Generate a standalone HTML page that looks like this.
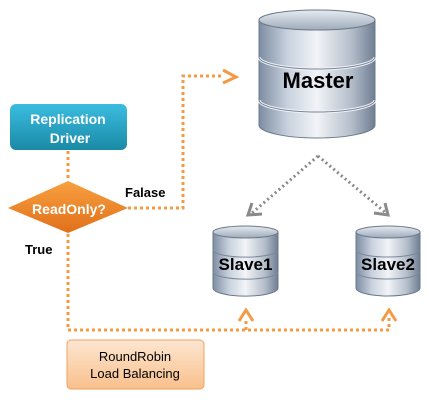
<!DOCTYPE html>
<html><head><style>
body{margin:0;width:429px;height:404px;background:#fff;overflow:hidden;font-family:"Liberation Sans",sans-serif}
</style></head><body>
<svg width="429" height="404" viewBox="0 0 429 404">
<defs>
<linearGradient id="cyl" x1="0" x2="1">
<stop offset="0" stop-color="#7d8da3"/><stop offset="0.25" stop-color="#c9d2de"/><stop offset="0.5" stop-color="#f2f4f7"/><stop offset="0.8" stop-color="#b3bdca"/><stop offset="1" stop-color="#6f7e92"/>
</linearGradient>
<linearGradient id="top" x1="0" y1="0" x2="0" y2="1"><stop offset="0" stop-color="#e6ebf1"/><stop offset="1" stop-color="#9eabbb"/></linearGradient>
<linearGradient id="teal" x1="0" y1="0" x2="0" y2="1"><stop offset="0" stop-color="#3bbde0"/><stop offset="1" stop-color="#1a8aa6"/></linearGradient>
<linearGradient id="org" x1="0" y1="0" x2="0" y2="1"><stop offset="0" stop-color="#f8a040"/><stop offset="1" stop-color="#e0701a"/></linearGradient>
<linearGradient id="peach" x1="0" y1="0" x2="0" y2="1"><stop offset="0" stop-color="#fde6d2"/><stop offset="1" stop-color="#f9c08c"/></linearGradient>
</defs>
<!-- Master -->
<g>
<path d="M259,20 V125 A58,13 0 0 0 375,125 V20 Z" fill="url(#cyl)" stroke="#6b7888"/>
<path d="M259,57 A58,12 0 0 0 375,57" fill="none" stroke="#eef2f6" stroke-width="3"/>
<path d="M259,57 A58,12 0 0 0 375,57" fill="none" stroke="#7a8799" stroke-width="1"/>
<path d="M259,100 A58,12 0 0 0 375,100" fill="none" stroke="#eef2f6" stroke-width="3"/>
<path d="M259,100 A58,12 0 0 0 375,100" fill="none" stroke="#7a8799" stroke-width="1"/>
<ellipse cx="317" cy="20" rx="58" ry="10" fill="url(#top)" stroke="#6b7888"/>
<text x="318" y="88" text-anchor="middle" font-size="22" font-weight="bold" fill="#000">Master</text>
</g>
<!-- Slave1 -->
<g>
<path d="M213,232 V288 A32,8 0 0 0 278,288 V232 Z" fill="url(#cyl)" stroke="#6b7888"/>
<path d="M213,250 A32,7 0 0 0 278,250" fill="none" stroke="#7a8799"/>
<path d="M213,272 A32,7 0 0 0 278,272" fill="none" stroke="#7a8799"/>
<ellipse cx="245.5" cy="232" rx="32.5" ry="6" fill="url(#top)" stroke="#6b7888"/>
<text x="245.5" y="270" text-anchor="middle" font-size="17" font-weight="bold">Slave1</text>
</g>
<g>
<path d="M356,232 V288 A32,8 0 0 0 420,288 V232 Z" fill="url(#cyl)" stroke="#6b7888"/>
<path d="M356,250 A32,7 0 0 0 420,250" fill="none" stroke="#7a8799"/>
<path d="M356,272 A32,7 0 0 0 420,272" fill="none" stroke="#7a8799"/>
<ellipse cx="388" cy="232" rx="32" ry="6" fill="url(#top)" stroke="#6b7888"/>
<text x="388" y="270" text-anchor="middle" font-size="17" font-weight="bold">Slave2</text>
</g>
<!-- gray arrows -->
<g stroke="#8a8a8a" stroke-width="3" stroke-dasharray="2 3" fill="none">
<path d="M318,156 L252,213"/><path d="M318,156 L386,213"/>
</g>
<g stroke="#8a8a8a" stroke-width="3" fill="none">
<path d="M252,203 L248,215 L262,214"/><path d="M374,213 L388,215 L385,203"/>
</g>
<!-- orange lines -->
<g stroke="#f39a45" stroke-width="3" stroke-dasharray="3 3" fill="none">
<path d="M68,151 V181"/>
<path d="M128,208 H183 V76 H222"/>
<path d="M68,234 V330 H389 V318"/>
<path d="M246,330 V318"/>
</g>
<g stroke="#f39a45" stroke-width="3" fill="none">
<path d="M223,70 L236,77 L223,83"/>
<path d="M239,321 L246,310 L253,321"/>
<path d="M382,321 L389,310 L396,321"/>
</g>
<!-- driver box -->
<rect x="10" y="104" width="117" height="46" rx="6" fill="url(#teal)"/>
<text x="68" y="124" text-anchor="middle" font-size="14" font-weight="bold" fill="#fff">Replication</text>
<text x="70" y="143" text-anchor="middle" font-size="14" font-weight="bold" fill="#fff">Driver</text>
<!-- diamond -->
<path d="M68,181 L128,208 L68,233 L8,208 Z" fill="url(#org)"/>
<text x="69" y="214" text-anchor="middle" font-size="14" font-weight="bold" fill="#fff">ReadOnly?</text>
<text x="125" y="197" font-size="13" font-weight="bold">Falase</text>
<text x="25" y="254" font-size="13" font-weight="bold">True</text>
<!-- RR box -->
<rect x="67" y="340" width="137" height="49" rx="4" fill="url(#peach)" stroke="#f3a060"/>
<text x="135" y="361" text-anchor="middle" font-size="13">RoundRobin</text>
<text x="135" y="378" text-anchor="middle" font-size="13">Load Balancing</text>
</svg>
</body></html>
